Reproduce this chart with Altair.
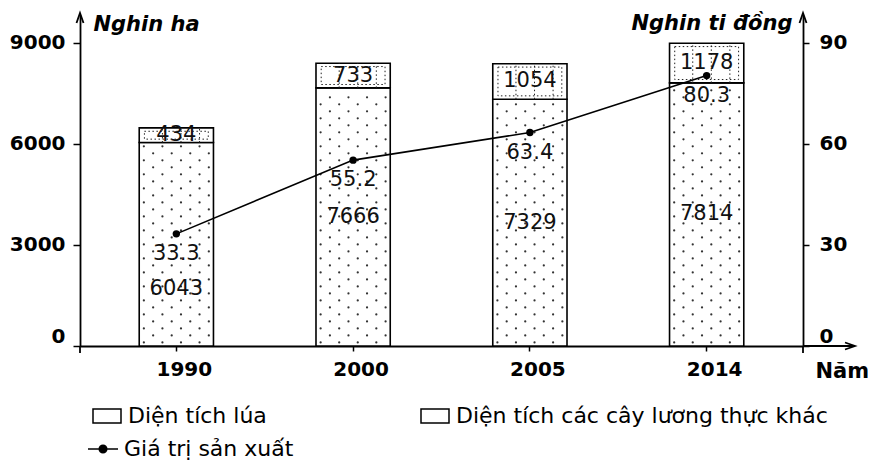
import altair as alt
import pandas as pd

# ---------------- data ----------------
years = ["1990", "2000", "2005", "2014"]
rice_area = [6043, 7666, 7329, 7814]      # nghìn ha
other_area = [434, 733, 1054, 1178]       # nghìn ha
prod_value = [33.3, 55.2, 63.4, 80.3]     # nghìn tỉ đồng

RICE = "Diện tích lúa"
OTHER = "Diện tích các cây lương thực khác"
LINE = "Giá trị sản xuất"

FONT = "DejaVu Sans"
W, H = 723, 331
Y_MAX = 9830
V_MAX = 98.3

df = pd.DataFrame({"year": years, "rice": rice_area, "other": other_area, "value": prod_value})
df["total"] = df["rice"] + df["other"]
df["lname"] = LINE

bars_df = pd.DataFrame({
    "year": years + years,
    "series": [RICE] * 4 + [OTHER] * 4,
    "start": [0] * 4 + rice_area,
    "end": rice_area + list(df["total"]),
})

# dotted texture for the rice segment (decoration)
dot_rows = []
for yr, r in zip(years, rice_area):
    k, yv = 0, 105
    while yv < r - 90:
        for s in ([0, 2, 4, 6] if k % 2 == 0 else [1, 3, 5, 7]):
            dot_rows.append({"year": yr, "slot": s, "y": yv})
        k += 1
        yv += 208
dots_df = pd.DataFrame(dot_rows)

# dotted grid texture for the other-crops segment (decoration)
vrule_rows = []
for yr, r, t in zip(years, rice_area, df["total"]):
    for s in [2, 4, 6]:
        vrule_rows.append({"year": yr, "slot": s, "y1": r, "y2": t})
vrule_df = pd.DataFrame(vrule_rows)

one = pd.DataFrame({"a": [0]})

# ---------------- scales / axes ----------------
xscale = alt.Scale(domain=years, paddingInner=0.58, paddingOuter=0.335)
xaxis = alt.Axis(
    title="Năm", titleX=735, titleY=31, titleAlign="left", titleBaseline="alphabetic",
    titleFont=FONT, titleFontSize=21, titleFontWeight="bold", titleColor="black",
    labelFont=FONT, labelFontSize=20, labelFontWeight="bold", labelColor="black",
    labelAngle=0, labelPadding=8, labelOffset=8,
    domainColor="black", domainWidth=1.8, tickColor="black", tickWidth=1.5, tickSize=5,
    grid=False,
)
X = alt.X("year:N", scale=xscale, axis=xaxis)
XO = alt.XOffset("slot:O", scale=alt.Scale(domain=list(range(8))))

yscale = alt.Scale(domain=[0, Y_MAX], nice=False, zero=True)
yaxis = alt.Axis(
    orient="left", values=[0, 3000, 6000, 9000], format="d", grid=False,
    title="Nghin ha", titleAngle=0, titleX=13, titleY=15, titleAlign="left",
    titleBaseline="alphabetic", titleFont=FONT, titleFontSize=21,
    titleFontStyle="italic", titleFontWeight="bold", titleColor="black",
    labelFont=FONT, labelFontSize=20, labelFontWeight="bold", labelColor="black",
    labelPadding=8,
    labelBaseline={"condition": {"test": "datum.value == 0", "value": "bottom"}, "value": "middle"},
    domainColor="black", domainWidth=1.8, tickColor="black", tickWidth=1.5, tickSize=7,
)

vscale = alt.Scale(domain=[0, V_MAX], nice=False, zero=True)
vaxis = alt.Axis(
    orient="right", values=[0, 30, 60, 90], format="d", grid=False,
    title="Nghin ti đồng", titleAngle=0, titleX=-11, titleY=14, titleAlign="right",
    titleBaseline="alphabetic", titleFont=FONT, titleFontSize=21,
    titleFontStyle="italic", titleFontWeight="bold", titleColor="black",
    labelFont=FONT, labelFontSize=20, labelFontWeight="bold", labelColor="black",
    labelPadding=10,
    labelBaseline={"condition": {"test": "datum.value == 0", "value": "bottom"}, "value": "middle"},
    domainColor="black", domainWidth=1.8, tickColor="black", tickWidth=1.5, tickSize=6,
)

# ---------------- left (area) layers ----------------
bars = alt.Chart(bars_df).mark_bar(stroke="black", strokeWidth=1.6).encode(
    x=X,
    y=alt.Y("end:Q", scale=yscale, axis=yaxis),
    y2="start:Q",
    fill=alt.Fill(
        "series:N",
        scale=alt.Scale(domain=[RICE, OTHER], range=["white", "white"]),
        legend=alt.Legend(
            title=None, orient="none", legendX=12, legendY=386, direction="horizontal",
            symbolType="M-1,-0.5H1V0.5H-1Z", symbolSize=784,
            symbolStrokeColor="black", symbolStrokeWidth=1.5, symbolFillColor="white",
            labelFont=FONT, labelFontSize=22, labelColor="black", labelOffset=6,
            labelLimit=600, columnPadding=151, padding=0,
        ),
    ),
)

dots = alt.Chart(dots_df).mark_circle(size=5, color="#333", opacity=1).encode(
    x=X, xOffset=XO, y=alt.Y("y:Q", scale=yscale, axis=yaxis)
)

inner = alt.Chart(df).transform_calculate(
    i1="datum.rice + 100", i2="datum.total - 100"
).mark_bar(
    width=alt.RelativeBandSize(0.86), fillOpacity=0, stroke="#222",
    strokeWidth=1, strokeDash=[1.5, 2.5],
).encode(x=X, y=alt.Y("i2:Q", scale=yscale, axis=yaxis), y2="i1:Q")

vrules = alt.Chart(vrule_df).mark_rule(
    strokeDash=[1.5, 2.5], strokeWidth=1, color="#222"
).encode(x=X, xOffset=XO, y=alt.Y("y1:Q", scale=yscale, axis=yaxis), y2="y2:Q")

txt = dict(font=FONT, fontSize=21, color="#111")

rice_lab = alt.Chart(df).transform_filter("datum.year != '1990'").transform_calculate(
    mid="datum.rice / 2"
).mark_text(**txt).encode(
    x=X, y=alt.Y("mid:Q", scale=yscale, axis=yaxis), text=alt.Text("rice:Q", format="d")
)
rice_lab90 = alt.Chart(df).transform_filter("datum.year == '1990'").transform_calculate(
    mid="datum.rice / 2"
).mark_text(dy=45, **txt).encode(
    x=X, y=alt.Y("mid:Q", scale=yscale, axis=yaxis), text=alt.Text("rice:Q", format="d")
)
other_lab = alt.Chart(df).transform_calculate(
    mid="datum.rice + datum.other / 2"
).mark_text(**txt).encode(
    x=X, y=alt.Y("mid:Q", scale=yscale, axis=yaxis), text=alt.Text("other:Q", format="d")
)

# axis decorations (arrow heads, extensions)
up_arrow = "M-0.7,1L0,-1L0.7,1"
right_arrow = "M-1,-0.7L1,0L-1,0.7"
arr_l = alt.Chart(one).mark_point(shape=up_arrow, filled=False, size=100, strokeWidth=1.8,
                                  color="black", opacity=1).encode(x=alt.value(0), y=alt.value(3))
arr_r = alt.Chart(one).mark_point(shape=up_arrow, filled=False, size=100, strokeWidth=1.8,
                                  color="black", opacity=1).encode(x=alt.value(W), y=alt.value(3))
x_ext = alt.Chart(one).mark_rule(strokeWidth=1.8, color="black").encode(
    x=alt.value(W), x2=alt.value(W + 52), y=alt.value(H))
arr_x = alt.Chart(one).mark_point(shape=right_arrow, filled=False, size=100, strokeWidth=1.8,
                                  color="black", opacity=1).encode(x=alt.value(W + 47), y=alt.value(H))
ext_l = alt.Chart(one).mark_rule(strokeWidth=1.8, color="black").encode(
    x=alt.value(0), y=alt.value(H), y2=alt.value(H + 7))
ext_r = alt.Chart(one).mark_rule(strokeWidth=1.8, color="black").encode(
    x=alt.value(W), y=alt.value(H), y2=alt.value(H + 7))

left = alt.layer(bars, dots, inner, vrules, rice_lab, rice_lab90, other_lab,
                 arr_l, arr_r, x_ext, arr_x, ext_l, ext_r)

# ---------------- right (value) layers ----------------
Y2 = alt.Y("value:Q", scale=vscale, axis=vaxis)
line = alt.Chart(df).mark_line(strokeWidth=1.6).encode(
    x=X, y=Y2,
    stroke=alt.Stroke(
        "lname:N",
        scale=alt.Scale(domain=[LINE], range=["black"]),
        legend=alt.Legend(
            title=None, orient="none", legendX=7, legendY=418,
            symbolType="M-1,0H1M-0.25,0A0.25,0.25,0,1,1,0.25,0A0.25,0.25,0,1,1,-0.25,0Z",
            symbolSize=900, symbolStrokeWidth=1.6, symbolFillColor="black",
            symbolStrokeColor="black",
            labelFont=FONT, labelFontSize=22, labelColor="black", labelOffset=5,
            labelLimit=600, padding=0,
        ),
    ),
)
points = alt.Chart(df).mark_point(filled=True, size=55, color="black", opacity=1).encode(x=X, y=Y2)
vlab = alt.Chart(df).mark_text(dy=20, **txt).encode(
    x=X, y=Y2, text=alt.Text("value:Q", format=".1f"))

right = alt.layer(line, points, vlab)

chart = alt.layer(left, right).resolve_scale(y="independent").properties(
    width=W, height=H,
    padding={"left": 72, "top": 7, "right": 65, "bottom": 114},
    autosize=alt.AutoSizeParams(type="none"),
    background="white",
).configure_view(stroke=None)

chart.save("out.html", embed_options={"renderer": "svg", "actions": False})
